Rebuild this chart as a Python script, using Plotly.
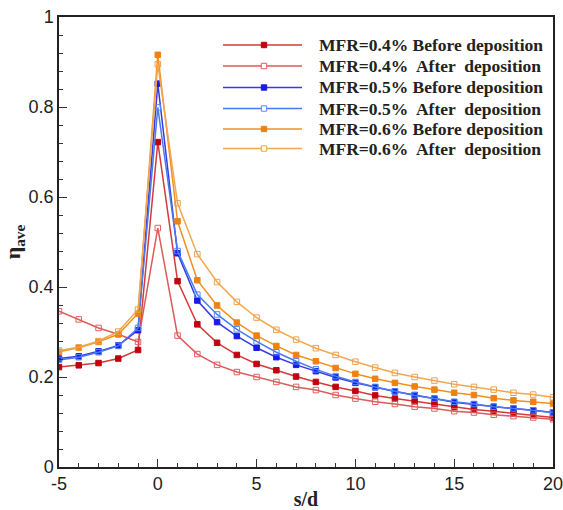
import plotly.graph_objects as go

x = list(range(-5, 21))

mfr04_before = [0.222, 0.226, 0.231, 0.241, 0.260, 0.722, 0.413, 0.317, 0.276, 0.249, 0.229, 0.215, 0.201,
                0.189, 0.178, 0.169, 0.159, 0.152, 0.146, 0.140, 0.133, 0.128, 0.124, 0.119, 0.115, 0.110]
mfr04_after = [0.346, 0.328, 0.309, 0.295, 0.278, 0.531, 0.292, 0.251, 0.227, 0.211, 0.200, 0.189, 0.178,
               0.171, 0.160, 0.152, 0.145, 0.140, 0.134, 0.130, 0.124, 0.121, 0.116, 0.113, 0.110, 0.106]
mfr05_before = [0.241, 0.246, 0.257, 0.270, 0.304, 0.852, 0.475, 0.370, 0.322, 0.291, 0.265, 0.244, 0.227,
                0.213, 0.199, 0.187, 0.177, 0.168, 0.160, 0.152, 0.144, 0.139, 0.134, 0.130, 0.126, 0.121]
mfr05_after = [0.238, 0.244, 0.255, 0.269, 0.309, 0.799, 0.480, 0.383, 0.339, 0.306, 0.279, 0.255, 0.235,
               0.217, 0.202, 0.189, 0.178, 0.168, 0.159, 0.152, 0.145, 0.140, 0.134, 0.130, 0.126, 0.121]
mfr06_before = [0.256, 0.265, 0.278, 0.295, 0.341, 0.916, 0.546, 0.415, 0.359, 0.321, 0.292, 0.269, 0.249,
                0.235, 0.220, 0.207, 0.196, 0.187, 0.179, 0.172, 0.165, 0.160, 0.153, 0.148, 0.145, 0.141]
mfr06_after = [0.259, 0.266, 0.280, 0.301, 0.350, 0.895, 0.586, 0.473, 0.411, 0.367, 0.332, 0.305, 0.283,
               0.264, 0.249, 0.234, 0.221, 0.209, 0.200, 0.192, 0.184, 0.178, 0.172, 0.165, 0.161, 0.155]

x_ticks = [-5, 0, 5, 10, 15, 20]
x_tick_labels = ["-5", "0", "5", "10", "15", "20"]
y_ticks = [0, 0.2, 0.4, 0.6, 0.8, 1]
y_tick_labels = ["0", "0.2", "0.4", "0.6", "0.8", "1"]

series = [
    ("MFR=0.4% Before deposition", mfr04_before, "#d43a3a", "#c00010", True),
    ("MFR=0.4%  After  deposition", mfr04_after, "#dc5a5a", "#e06060", False),
    ("MFR=0.5% Before deposition", mfr05_before, "#3a3ae0", "#1a1ae8", True),
    ("MFR=0.5%  After  deposition", mfr05_after, "#4a7af0", "#4a8cf5", False),
    ("MFR=0.6% Before deposition", mfr06_before, "#f09020", "#f08010", True),
    ("MFR=0.6%  After  deposition", mfr06_after, "#f0a850", "#f0a050", False),
]

W, H = 563, 510
L, R, T, B = 59, 10, 17, 43
pw, ph = W - L - R, H - T - B

fig = go.Figure()
for name, y, lc, mc, filled in series:
    fig.add_trace(go.Scatter(
        x=x, y=y, name=name, mode="lines+markers", showlegend=False,
        line=dict(color=lc, width=1.5),
        marker=dict(symbol="square" if filled else "square-open", size=5.5, color=mc,
                    line=dict(color=mc, width=1)),
    ))

# custom legend (paper coordinates)
def px2x(p):
    return (p - L) / pw

def py2y(p):
    return (H - B - p) / ph

row_y = [45, 66, 87.5, 108.5, 129, 148.5]
shapes = []
annotations = []
for (name, y, lc, mc, filled), ry in zip(series, row_y):
    yy = py2y(ry)
    shapes.append(dict(type="line", xref="paper", yref="paper", x0=px2x(223), x1=px2x(302), y0=yy, y1=yy,
                       line=dict(color=lc, width=1.5)))
    d = 2.7
    shapes.append(dict(type="rect", xref="paper", yref="paper",
                       x0=px2x(264 - d), x1=px2x(264 + d), y0=py2y(ry + d), y1=py2y(ry - d),
                       line=dict(color=mc, width=1), fillcolor=mc if filled else "white"))
    annotations.append(dict(xref="paper", yref="paper", x=px2x(317), y=yy, xanchor="left", yanchor="middle",
                            text="<b>" + name + "</b>", showarrow=False,
                            font=dict(family="Liberation Serif", size=17.5, color="#222")))

fig.update_layout(
    width=W, height=H,
    margin=dict(l=L, r=R, t=T, b=B),
    paper_bgcolor="white", plot_bgcolor="white",
    showlegend=False,
    shapes=shapes, annotations=annotations,
    xaxis=dict(
        range=[-5, 20], tickvals=x_ticks, ticktext=x_tick_labels, automargin=False,
        ticklabeloverflow="allow",
        ticks="inside", ticklen=8, tickwidth=1.2, tickcolor="#333",
        minor=dict(ticks="inside", ticklen=4, dtick=1, tickcolor="#333"),
        showgrid=False, zeroline=False,
        showline=True, linecolor="#222", linewidth=1.5, mirror=True,
        tickfont=dict(family="Liberation Sans", size=18, color="#222"),
        title=dict(text="<b>s/d</b>", font=dict(family="Liberation Serif", size=20, color="#222"), standoff=2),
    ),
    yaxis=dict(
        range=[0, 1], tickvals=y_ticks, ticktext=y_tick_labels, automargin=False,
        ticklabeloverflow="allow",
        ticks="inside", ticklen=8, tickwidth=1.2, tickcolor="#333",
        minor=dict(ticks="inside", ticklen=4, dtick=0.04, tickcolor="#333"),
        showgrid=False, zeroline=False,
        showline=True, linecolor="#222", linewidth=1.5, mirror=True,
        tickfont=dict(family="Liberation Sans", size=18, color="#222"),
        title=dict(text="<b>η<sub>ave</sub></b>", font=dict(family="Liberation Serif", size=22, color="#222"), standoff=4),
    ),
)

fig.write_html("out.html")
